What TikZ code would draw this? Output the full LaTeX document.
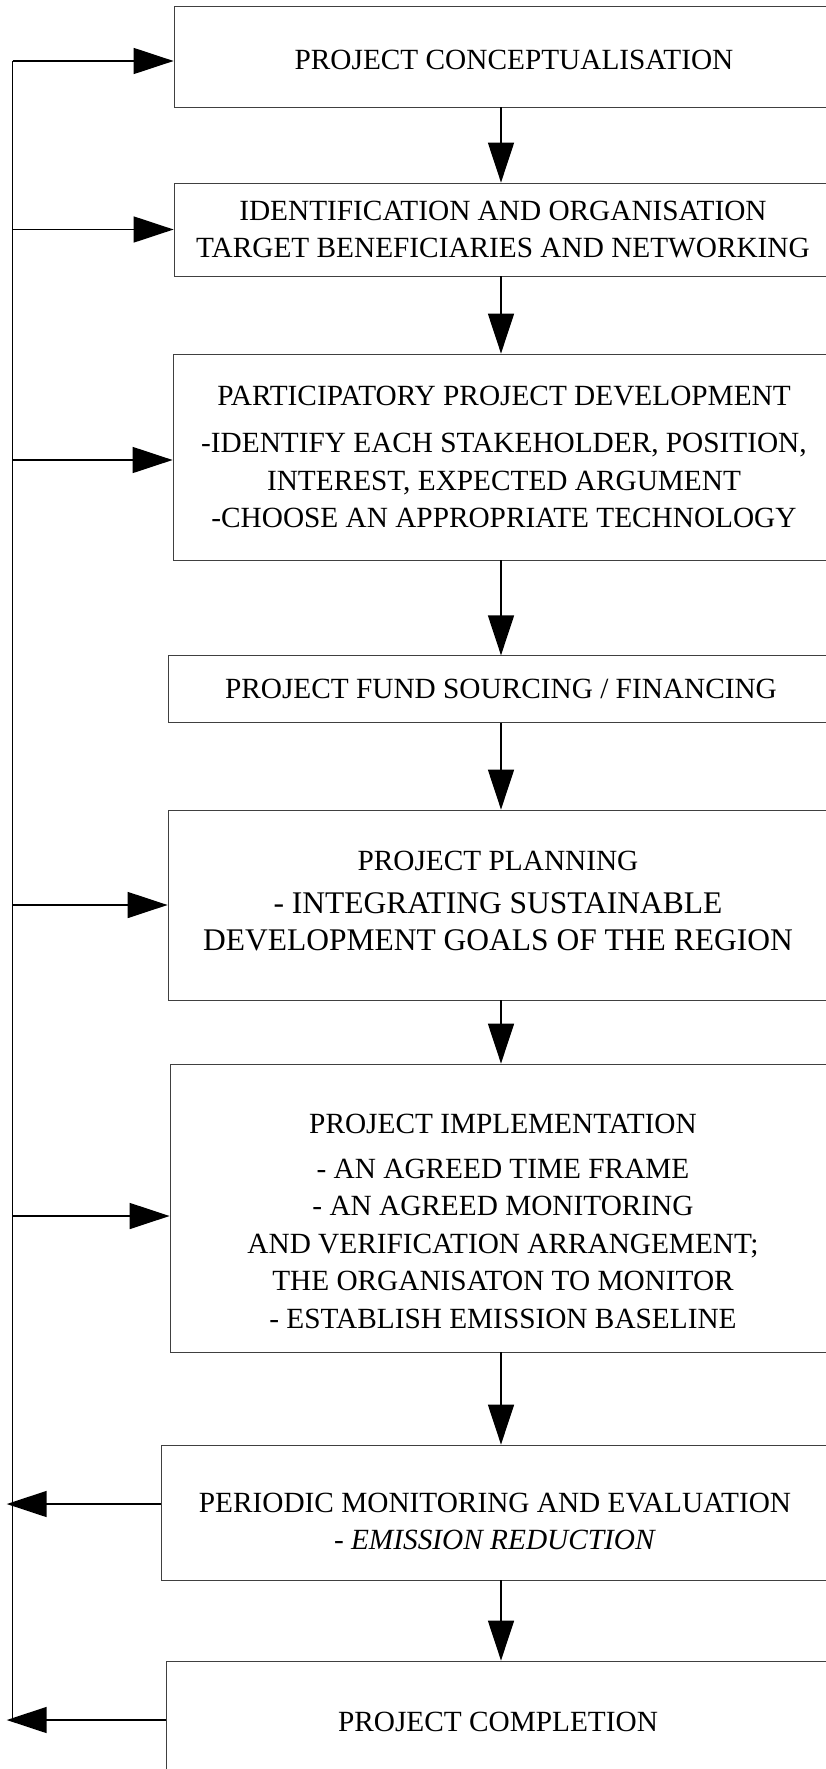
\documentclass[tikz,border=0pt]{standalone}
\usepackage{fontspec}
\setmainfont{Liberation Serif}
\usetikzlibrary{arrows.meta}
\usetikzlibrary{positioning}
\tikzstyle{stage}=[draw=black!75, line width=0.8pt, fill=white, align=center, inner sep=0pt, font=\fontsize{29.3}{37.5}\selectfont]
\tikzstyle{flow}=[-{Triangle[length=40pt,width=26pt]}, line width=1.5pt]
\tikzstyle{feed}=[line width=1.5pt]
\newcommand{\bigline}{\fontsize{31.5}{37.5}\selectfont}
\newcommand{\topstrut}[1]{\rule{0pt}{#1}}
\newcommand{\botstrut}[1]{\rule[-#1]{0pt}{#1}}

\begin{document}
\begin{tikzpicture}[x=1pt, y=-1pt]

  \useasboundingbox (0,0) rectangle (826,1769);
  \clip (0,0) rectangle (826,1769);
  \fill[white] (0,0) rectangle (826,1769);

  % stages (the boxes run off the right edge)
  \node[stage, minimum width=680, minimum height=101] (concept) at (514,56.5) {\topstrut{27pt}PROJECT CONCEPTUALISATION};
  \node[stage, minimum width=658, minimum height=93] (ident) at (503,229.5) {IDENTIFICATION AND ORGANISATION\\ TARGET BENEFICIARIES AND NETWORKING};
  \node[stage, minimum width=662, minimum height=206] (partic) at (504,457) {PARTICIPATORY PROJECT DEVELOPMENT\\[10pt] -IDENTIFY EACH STAKEHOLDER, POSITION,\\ INTEREST, EXPECTED ARGUMENT\\ -CHOOSE AN APPROPRIATE TECHNOLOGY};
  \node[stage, minimum width=666, minimum height=66.5] (fund) at (501,689) {PROJECT FUND SOURCING / FINANCING};
  \node[stage, minimum width=660, minimum height=190] (plan) at (498,905) {PROJECT PLANNING\\[5.5pt] \bigline - INTEGRATING SUSTAINABLE\\ \bigline DEVELOPMENT GOALS OF THE REGION\botstrut{8pt}};
  \node[stage, minimum width=666, minimum height=288] (impl) at (503,1208) {\topstrut{46pt}PROJECT IMPLEMENTATION\\[7pt] - AN AGREED TIME FRAME\\ - AN AGREED MONITORING\\ AND VERIFICATION ARRANGEMENT;\\ THE ORGANISATON TO MONITOR\\ - ESTABLISH EMISSION BASELINE};
  \node[stage, minimum width=668, minimum height=135] (monitor) at (495,1512.5) {\topstrut{37pt}PERIODIC MONITORING AND EVALUATION\\ - \textit{EMISSION REDUCTION}};
  \node[stage, minimum width=664, minimum height=122] (finish) at (498,1722) {PROJECT COMPLETION};

  \coordinate (spine) at (501,0);
  \coordinate (bustop) at (12.7,61);
  \coordinate (busend) at (12.7,1720);

  % main flow
  \foreach \source/\dest in {concept/ident, ident/partic, partic/fund, fund/plan, plan/impl, impl/monitor, monitor/finish}
      \draw[flow] (\source.south -| spine) -- (\dest.north -| spine);

  % feedback line
  \draw[feed] (bustop) -- (busend);
  \foreach \dest/\dy in {concept/-4.5, ident/0, partic/-3, plan/0, impl/-8}{
      \coordinate (in) at ([yshift=\dy pt]\dest.west);
      \draw[flow] (bustop |- in) -- (in);
  }
  \foreach \source/\dy in {monitor/8.5, finish/2}{
      \coordinate (out) at ([yshift=\dy pt]\source.west);
      \draw[flow, shorten >=-6pt] (out) -- (bustop |- out);
  }

\end{tikzpicture}
\end{document}
